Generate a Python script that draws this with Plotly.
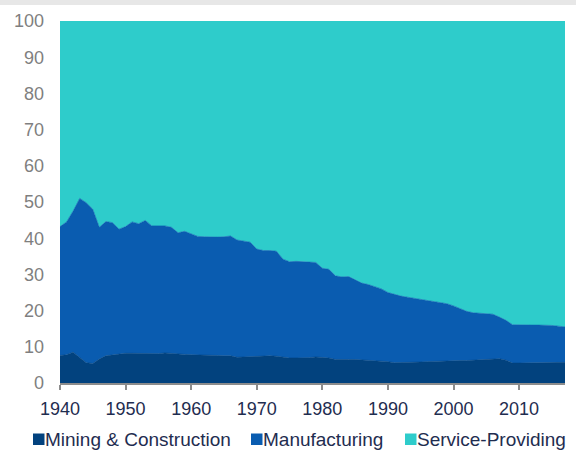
import plotly.graph_objects as go

# Share of US nonfarm employment by sector, percent (annual)
years = list(range(1940, 2018))

mining_construction = [
    7.6, 7.8, 8.5, 7.0, 5.6, 5.4, 6.6, 7.5, 7.8, 7.9,
    8.2, 8.2, 8.2, 8.1, 8.0, 8.1, 8.3, 8.1, 7.9, 7.9,
    7.8, 7.7, 7.6, 7.6, 7.6, 7.5, 7.5, 7.1, 7.2, 7.3,
    7.3, 7.4, 7.5, 7.4, 7.1, 6.9, 6.9, 6.9, 7.0, 7.2,
    7.1, 6.9, 6.5, 6.4, 6.5, 6.5, 6.4, 6.4, 6.3, 6.2,
    5.9, 5.6, 5.6, 5.6, 5.7, 5.8, 5.9, 6.0, 6.1, 6.1,
    6.1, 6.2, 6.2, 6.3, 6.4, 6.6, 6.8, 6.7, 6.3, 5.5,
    5.5, 5.5, 5.5, 5.6, 5.7, 5.7, 5.7, 5.7,
]

manufacturing = [
    35.6, 36.7, 39.0, 44.0, 44.2, 42.6, 36.4, 37.1, 36.5, 34.6,
    35.0, 36.3, 35.8, 36.8, 35.4, 35.4, 35.1, 34.9, 33.6, 34.0,
    33.5, 32.8, 32.8, 32.7, 32.7, 32.9, 33.1, 32.4, 32.0, 31.6,
    29.7, 29.2, 29.1, 29.0, 27.1, 26.6, 26.7, 26.5, 26.4, 26.1,
    24.6, 24.5, 23.1, 22.9, 22.9, 22.0, 21.2, 20.8, 20.3, 19.8,
    19.1, 18.8, 18.4, 18.1, 17.7, 17.5, 17.0, 16.6, 16.1, 15.8,
    15.2, 14.4, 13.6, 13.1, 12.9, 12.6, 12.2, 11.5, 11.0, 10.6,
    10.5, 10.5, 10.5, 10.4, 10.3, 10.2, 10.0, 9.8,
]

service_providing = [
    56.8, 55.5, 52.5, 49.0, 50.2, 52.0, 57.0, 55.4, 55.7, 57.5,
    56.8, 55.5, 56.0, 55.1, 56.6, 56.5, 56.6, 57.0, 58.5, 58.1,
    58.7, 59.5, 59.6, 59.7, 59.7, 59.6, 59.4, 60.5, 60.8, 61.1,
    63.0, 63.4, 63.4, 63.6, 65.8, 66.5, 66.4, 66.6, 66.6, 66.7,
    68.3, 68.6, 70.4, 70.7, 70.6, 71.5, 72.4, 72.8, 73.4, 74.0,
    75.0, 75.6, 76.0, 76.3, 76.6, 76.7, 77.1, 77.4, 77.8, 78.1,
    78.7, 79.4, 80.2, 80.6, 80.7, 80.8, 81.0, 81.8, 82.7, 83.9,
    84.0, 84.0, 84.0, 84.0, 84.0, 84.1, 84.3, 84.5,
]

series_names = ["Mining & Construction", "Manufacturing", "Service-Providing"]
series_colors = ["#02427E", "#0A5CB0", "#2ECCCB"]
x_ticks = [1940, 1950, 1960, 1970, 1980, 1990, 2000, 2010]
y_ticks = [0, 10, 20, 30, 40, 50, 60, 70, 80, 90, 100]

FONT = "Liberation Sans, Arial, sans-serif"
NAVY = "#1F2D50"
GREY = "#7F7F7F"

fig = go.Figure()
for name, vals, col in zip(series_names,
                           [mining_construction, manufacturing, service_providing],
                           series_colors):
    fig.add_trace(go.Scatter(
        x=years, y=vals, name=name, stackgroup="one", mode="lines",
        line=dict(color=col, width=0.6), fillcolor=col, showlegend=False,
        hoverinfo="x+y+name",
    ))

# plot-area geometry in pixels (used to place the header band and legend)
W, H = 576, 452
ml, mr, mt, mb = 60, 11, 21, 69
pw, ph = W - ml - mr, H - mt - mb


def px_x(px):
    return (px - ml) / pw


def px_y(py):
    return (H - mb - py) / ph


shapes = [
    # light grey band across the top of the page
    dict(type="rect", xref="paper", yref="paper",
         x0=px_x(0), x1=px_x(W), y0=px_y(5), y1=px_y(0),
         fillcolor="#E7E7E7", line=dict(width=0), layer="below"),
]

annotations = []
legend_x = [33, 251, 405]
for lx, name, col in zip(legend_x, series_names, series_colors):
    shapes.append(dict(type="rect", xref="paper", yref="paper",
                       x0=px_x(lx), x1=px_x(lx + 11.5),
                       y0=px_y(445), y1=px_y(433.5),
                       fillcolor=col, line=dict(width=0)))
    annotations.append(dict(xref="paper", yref="paper",
                            x=px_x(lx + 10), y=px_y(439.5),
                            xanchor="left", yanchor="middle",
                            text=name, showarrow=False,
                            font=dict(family=FONT, size=19, color=NAVY)))

fig.update_layout(
    width=W, height=H,
    margin=dict(l=ml, r=mr, t=mt, b=mb, pad=0),
    paper_bgcolor="white", plot_bgcolor="white",
    shapes=shapes, annotations=annotations,
    showlegend=False,
    xaxis=dict(
        range=[1940, 2017], tickvals=x_ticks,
        showgrid=False, zeroline=False,
        showline=True, linecolor="#8C8C8C", linewidth=2,
        ticks="outside", ticklen=5, tickwidth=2, tickcolor="#8C8C8C",
        ticklabelstandoff=3,
        tickfont=dict(family=FONT, size=18, color=NAVY),
    ),
    yaxis=dict(
        range=[0, 100], tickvals=y_ticks,
        showgrid=False, zeroline=False, showline=False,
        ticks="", ticklabelstandoff=15,
        tickfont=dict(family=FONT, size=18, color=GREY),
    ),
)

fig.write_html("out.html")
